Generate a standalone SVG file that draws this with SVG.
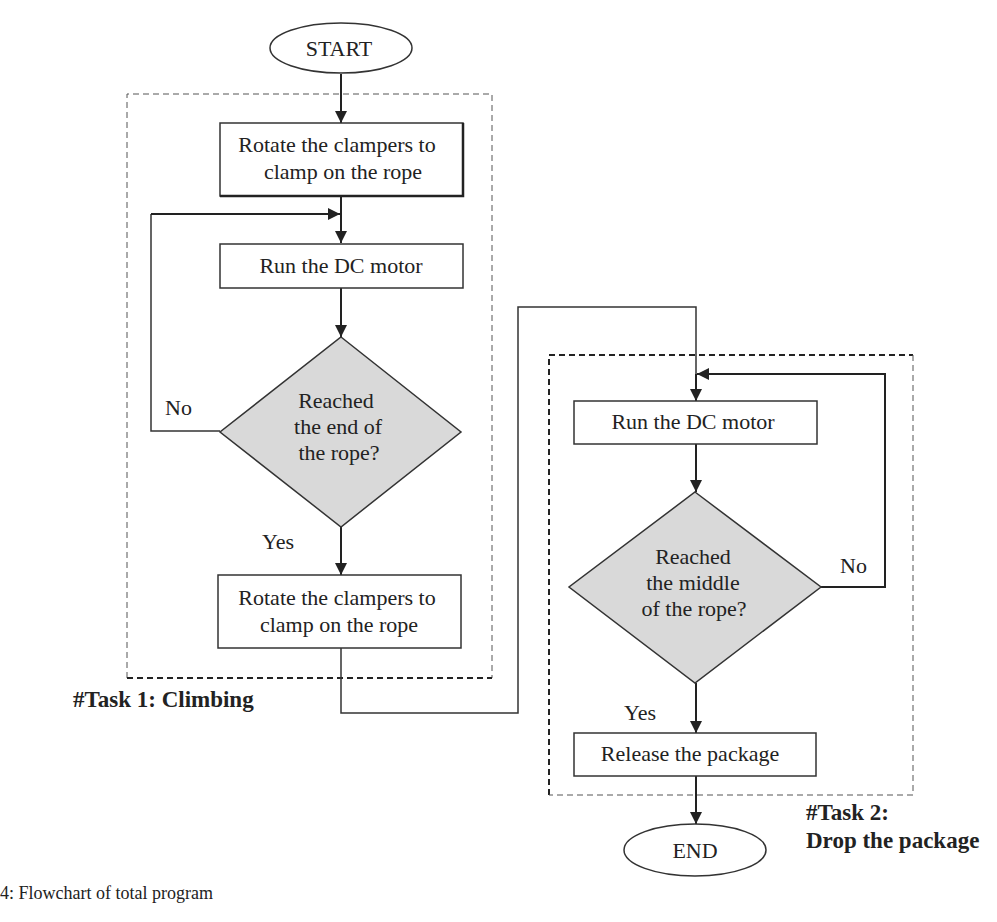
<svg xmlns="http://www.w3.org/2000/svg" width="997" height="922" viewBox="0 0 997 922">
<defs>
<marker id="ah" viewBox="0 0 10 10" refX="10" refY="5" markerWidth="12" markerHeight="12" markerUnits="userSpaceOnUse" orient="auto">
<path d="M0,0 L10,5 L0,10 z" fill="#222"/>
</marker>
<style>
.t{font-family:"Liberation Serif","Times New Roman",serif;font-size:22px;fill:#222;text-anchor:middle}
.lb{font-family:"Liberation Serif","Times New Roman",serif;font-size:22px;fill:#222}
.bd{font-family:"Liberation Serif","Times New Roman",serif;font-size:23px;font-weight:bold;fill:#222}
.box{fill:#fff;stroke:#333;stroke-width:1.5}
.dia{fill:#d9d9d9;stroke:#333;stroke-width:1.5}
.c{fill:none;stroke:#333;stroke-width:1.5}
.ca{fill:none;stroke:#222;stroke-width:2}
.dl{fill:none;stroke:#555;stroke-width:1;stroke-dasharray:6 4}
.dh{fill:none;stroke:#222;stroke-width:2;stroke-dasharray:6 4}
</style>
</defs>
<rect width="997" height="922" fill="#fff"/>
<g id="task1-frame">
<path class="dl" d="M127,678 V94 H492 V678"/>
<path class="dh" d="M127,678 H492"/>
</g>
<g id="task2-frame">
<path class="dh" d="M549,795 V355 H913"/>
<path class="dl" d="M913,355 V795 H549"/>
</g>
<g id="connectors">
<path class="ca" d="M341,74 V123" marker-end="url(#ah)"/>
<path class="ca" d="M341,196 V243" marker-end="url(#ah)"/>
<path class="c" d="M220,431 H151 V214"/>
<path class="ca" d="M151,214 H340" marker-end="url(#ah)"/>
<path class="ca" d="M341,288 V337" marker-end="url(#ah)"/>
<path class="ca" d="M341,527 V575" marker-end="url(#ah)"/>
<path class="c" d="M341,648 V713 H518 V307 H696 V374"/>
<path class="ca" d="M696,374 V401" marker-end="url(#ah)"/>
<path class="ca" d="M821,587 H885 V374 H697" marker-end="url(#ah)"/>
<path class="ca" d="M696,444 V492" marker-end="url(#ah)"/>
<path class="ca" d="M696,683 V733" marker-end="url(#ah)"/>
<path class="ca" d="M696,776 V824" marker-end="url(#ah)"/>
</g>
<g id="start">
<ellipse class="box" cx="341" cy="48" rx="71" ry="25"/>
<text class="t" x="339" y="56">START</text>
</g>
<g id="rotate1">
<rect class="box" x="220" y="123" width="243" height="73"/>
<path d="M463,123 V196 H220" fill="none" stroke="#222" stroke-width="2.5"/>
<text class="t" x="337" y="152">Rotate the clampers to</text>
<text class="t" x="343" y="179">clamp on the rope</text>
</g>
<g id="run1">
<rect class="box" x="220" y="244" width="243" height="44" stroke-width="2"/>
<text class="t" x="341" y="273">Run the DC motor</text>
</g>
<g id="decision1">
<polygon class="dia" points="341,337 461,432 341,527 220,432"/>
<text class="t" x="336" y="408">Reached</text>
<text class="t" x="338" y="434">the end of</text>
<text class="t" x="339" y="460">the rope?</text>
</g>
<text class="lb" x="165" y="415">No</text>
<text class="lb" x="262" y="549">Yes</text>
<g id="rotate2">
<rect class="box" x="218" y="575" width="243" height="73" stroke-width="2.5"/>
<text class="t" x="337" y="605">Rotate the clampers to</text>
<text class="t" x="339" y="632">clamp on the rope</text>
</g>
<text class="bd" x="73" y="707">#Task 1: Climbing</text>
<g id="run2">
<rect class="box" x="574" y="401" width="243" height="43"/>
<text class="t" x="693" y="429">Run the DC motor</text>
</g>
<g id="decision2">
<polygon class="dia" points="695,492 821,587 695,683 569,587"/>
<text class="t" x="693" y="564">Reached</text>
<text class="t" x="693" y="590">the middle</text>
<text class="t" x="694" y="616">of the rope?</text>
</g>
<text class="lb" x="840" y="573">No</text>
<text class="lb" x="624" y="720">Yes</text>
<g id="release">
<rect class="box" x="574" y="733" width="242" height="43"/>
<text class="t" x="690" y="761">Release the package</text>
</g>
<g id="end">
<ellipse class="box" cx="695" cy="850" rx="71" ry="26"/>
<text class="t" x="695" y="858">END</text>
</g>
<text class="bd" x="806" y="820">#Task 2:</text>
<text class="bd" x="806" y="848">Drop the package</text>
<text x="0" y="899" font-family="Liberation Serif, Times New Roman, serif" font-size="18" fill="#222">4: Flowchart of total program</text>
</svg>
